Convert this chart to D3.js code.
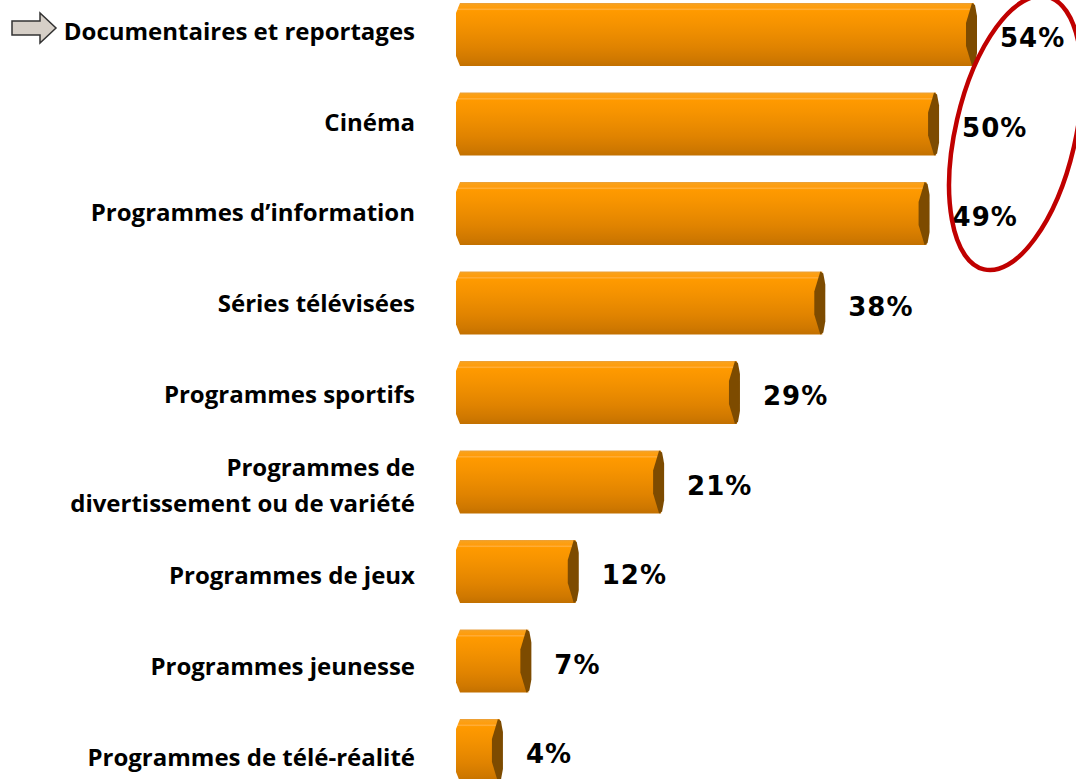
<!DOCTYPE html>
<html lang="fr">
<head>
<meta charset="UTF-8">
<title>Genres de programmes</title>
<style>
  body { margin: 0; background: #fff; }
  svg { display: block; }
</style>
</head>
<body>
<div id="graph"></div>
<script src="https://d3js.org/d3.v7.min.js"></script>
<script>
// Données
const CATEGORIES = [
  "Documentaires et reportages",
  "Cinéma",
  "Programmes d’information",
  "Séries télévisées",
  "Programmes sportifs",
  "Programmes de\ndivertissement ou de variété",
  "Programmes de jeux",
  "Programmes jeunesse",
  "Programmes de télé-réalité"
];
const VALUES = [54, 50, 49, 38, 29, 21, 12, 7, 4];
const HIGHLIGHTED = [0, 1, 2];   // entourés en rouge

const WIDTH = 1076;
const HEIGHT = 779;
const BAR_LEFT = 456;

const data = CATEGORIES.map((c, i) => ({ cat: c, value: VALUES[i] }));

const xScale = d3.scaleLinear()
  .domain([0, 54])
  .range([462, 974]);

const yScale = d3.scaleBand()
  .domain(CATEGORIES)
  .range([-10.25, -10.25 + 9 * 89.5])
  .paddingInner(0.296)
  .paddingOuter(0.148);

// les libellés ne suivent pas exactement les barres
const labelY = d3.scalePoint()
  .domain(CATEGORIES)
  .range([40, 765.6]);

const svg = d3.select("#graph")
  .append("svg")
  .attr("width", WIDTH)
  .attr("height", HEIGHT);

// dégradé vertical des barres (effet cylindre)
const defs = svg.append("defs");
const grad = defs.append("linearGradient")
  .attr("id", "barGrad")
  .attr("x1", 0).attr("y1", 0).attr("x2", 0).attr("y2", 1);
[
  [0, "#e8a040"], [0.025, "#f9a11a"], [0.08, "#ff9c0c"], [0.1, "#ffb040"],
  [0.12, "#ff9a00"], [0.3, "#f79400"], [0.5, "#ec8c00"], [0.7, "#e08300"],
  [0.9, "#cf7800"], [1, "#c27000"]
].forEach(([o, c]) => grad.append("stop").attr("offset", o).attr("stop-color", c));

const bars = svg.append("g")
  .selectAll("g")
  .data(data)
  .enter()
  .append("g");

// corps de la barre
bars.append("path")
  .attr("d", d => {
    const t = yScale(d.cat), b = t + yScale.bandwidth(), xe = xScale(d.value);
    return `M${BAR_LEFT + 4},${t} H${xe} V${b} H${BAR_LEFT + 4} L${BAR_LEFT},${b - 10} V${t + 10} Z`;
  })
  .attr("fill", "url(#barGrad)");

// extrémité sombre
bars.append("path")
  .attr("d", d => {
    const t = yScale(d.cat), b = t + yScale.bandwidth(), xe = xScale(d.value);
    return `M${xe - 2},${t} L${xe + 1},${t + 2} L${xe + 3},${t + 13} V${b - 13} L${xe + 1},${b - 2} L${xe - 2},${b} L${xe - 8},${b - 20} V${t + 20} Z`;
  })
  .attr("fill", "#7d4b00");

// valeurs
bars.append("text")
  .attr("x", d => xScale(d.value) + 26)
  .attr("y", d => yScale(d.cat) + yScale.bandwidth() / 2 + 12.5)
  .attr("font-family", "DejaVu Sans, Verdana, sans-serif")
  .attr("font-weight", "bold")
  .attr("font-size", 26)
  .attr("letter-spacing", 1)
  .attr("fill", "#000")
  .text(d => d.value + "%");

// libellés
bars.append("text")
  .attr("text-anchor", "end")
  .attr("font-family", "Open Sans, sans-serif")
  .attr("font-weight", "bold")
  .attr("font-size", 24)
  .attr("fill", "#000")
  .each(function (d) {
    const lines = d.cat.split("\n");
    const base = labelY(d.cat);
    lines.forEach((l, i) => {
      d3.select(this).append("tspan")
        .attr("x", 415)
        .attr("y", base + (i - (lines.length - 1) / 2) * 36)
        .text(l);
    });
  });

// flèche
svg.append("path")
  .attr("d", "M12,21 H40 V13 L56,28 L40,43 V35 H12 Z")
  .attr("fill", "#d6cfc7")
  .attr("stroke", "#333")
  .attr("stroke-width", 1.5);

// ellipse rouge autour des trois premières valeurs
const hl = HIGHLIGHTED.map(i => data[i]);
const cx = d3.mean(hl, d => xScale(d.value)) + 70;
const cy = (yScale(hl[0].cat) + yScale(hl[2].cat) + yScale.bandwidth()) / 2 + 9;
svg.append("ellipse")
  .attr("cx", cx)
  .attr("cy", cy)
  .attr("rx", 60)
  .attr("ry", 140)
  .attr("transform", `rotate(13, ${cx}, ${cy})`)
  .attr("fill", "none")
  .attr("stroke", "#c00000")
  .attr("stroke-width", 4.5);
</script>
</body>
</html>
